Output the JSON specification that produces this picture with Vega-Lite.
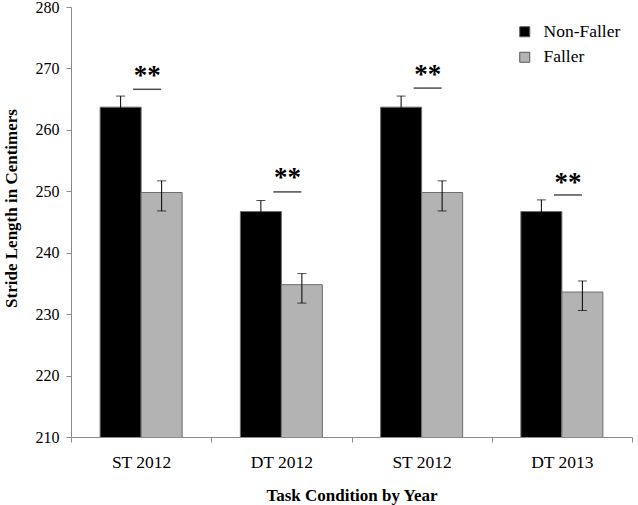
{
  "$schema": "https://vega.github.io/schema/vega-lite/v6.json",
  "width": 561,
  "height": 430,
  "autosize": {"type": "none"},
  "padding": {"left": 71, "top": 7, "right": 6, "bottom": 68},
  "config": {
    "view": {"stroke": null},
    "font": "Liberation Serif",
    "axis": {"labelFont": "Liberation Serif", "titleFont": "Liberation Serif"},
    "legend": {"labelFont": "Liberation Serif", "titleFont": "Liberation Serif"},
    "text": {"font": "Liberation Serif"}
  },
  "datasets": {
    "bars": [
      {"cond": "ST 2012|1", "group": "Non-Faller", "value": 263.7, "lo": 261.9, "hi": 265.5},
      {"cond": "ST 2012|1", "group": "Faller", "value": 249.8, "lo": 246.8, "hi": 251.7},
      {"cond": "DT 2012|2", "group": "Non-Faller", "value": 246.7, "lo": 244.9, "hi": 248.5},
      {"cond": "DT 2012|2", "group": "Faller", "value": 234.8, "lo": 231.8, "hi": 236.6},
      {"cond": "ST 2012|3", "group": "Non-Faller", "value": 263.7, "lo": 261.9, "hi": 265.5},
      {"cond": "ST 2012|3", "group": "Faller", "value": 249.8, "lo": 246.8, "hi": 251.7},
      {"cond": "DT 2013|4", "group": "Non-Faller", "value": 246.7, "lo": 244.8, "hi": 248.6},
      {"cond": "DT 2013|4", "group": "Faller", "value": 233.6, "lo": 230.6, "hi": 235.4}
    ],
    "sig": [
      {"cond": "ST 2012|1", "lineY": 266.6, "starY": 267.4, "label": "**"},
      {"cond": "DT 2012|2", "lineY": 249.9, "starY": 250.8, "label": "**"},
      {"cond": "ST 2012|3", "lineY": 266.8, "starY": 267.6, "label": "**"},
      {"cond": "DT 2013|4", "lineY": 249.4, "starY": 250.1, "label": "**"}
    ]
  },
  "layer": [
    {
      "data": {"name": "bars"},
      "mark": {"type": "bar", "stroke": "#6e6e6e", "strokeWidth": 1, "clip": true},
      "encoding": {
        "x": {
          "field": "cond", "type": "nominal", "sort": null,
          "scale": {"paddingInner": 0, "paddingOuter": 0},
          "axis": {
            "labelExpr": "split(datum.label, '|')[0]",
            "tickBand": "extent",
            "labelAngle": 0,
            "domainColor": "#8a8a8a", "tickColor": "#8a8a8a", "tickSize": 5,
            "labelFont": "Liberation Serif", "labelFontSize": 17.5, "labelColor": "#000000",
            "labelBaseline": "alphabetic", "labelPadding": 25,
            "title": "Task Condition by Year",
            "titleFont": "Liberation Serif", "titleFontSize": 17, "titleFontWeight": "bold", "titleColor": "#000000",
            "titleBaseline": "alphabetic", "titleY": 63
          }
        },
        "y": {
          "field": "value", "type": "quantitative",
          "scale": {"domain": [210, 280], "nice": false, "zero": false},
          "axis": {
            "values": [210, 220, 230, 240, 250, 260, 270, 280],
            "grid": false,
            "domainColor": "#8a8a8a", "tickColor": "#8a8a8a", "tickSize": 5,
            "labelFont": "Liberation Serif", "labelFontSize": 16, "labelColor": "#000000", "labelPadding": 7,
            "title": "Stride Length in Centimers",
            "titleFont": "Liberation Serif", "titleFontSize": 17, "titleFontWeight": "bold", "titleColor": "#000000",
            "titleAngle": 270, "titleBaseline": "alphabetic", "titleAlign": "center",
            "titleX": -55, "titleY": 201
          }
        },
        "xOffset": {
          "field": "group", "type": "nominal", "sort": ["Non-Faller", "Faller"],
          "scale": {"paddingInner": 0, "paddingOuter": 0.71}
        },
        "color": {
          "field": "group", "type": "nominal",
          "scale": {"domain": ["Non-Faller", "Faller"], "range": ["#000000", "#b3b3b3"]},
          "legend": {
            "orient": "none", "legendX": 445, "legendY": 16, "padding": 0,
            "title": null,
            "symbolType": "square", "symbolSize": 100, "symbolStrokeColor": "#555555", "symbolStrokeWidth": 1,
            "labelFont": "Liberation Serif", "labelFontSize": 17.5, "labelColor": "#000000",
            "labelOffset": 10, "rowPadding": 6.5
          }
        }
      }
    },
    {
      "data": {"name": "bars"},
      "mark": {"type": "rule", "color": "#000000", "strokeWidth": 1},
      "encoding": {
        "x": {"field": "cond", "type": "nominal", "sort": null},
        "xOffset": {"field": "group", "type": "nominal", "sort": ["Non-Faller", "Faller"]},
        "y": {"field": "lo", "type": "quantitative"},
        "y2": {"field": "hi"}
      }
    },
    {
      "data": {"name": "bars"},
      "mark": {"type": "tick", "color": "#000000", "size": 9, "thickness": 1, "orient": "horizontal"},
      "encoding": {
        "x": {"field": "cond", "type": "nominal", "sort": null},
        "xOffset": {"field": "group", "type": "nominal", "sort": ["Non-Faller", "Faller"]},
        "y": {"field": "hi", "type": "quantitative"}
      }
    },
    {
      "data": {"name": "bars"},
      "mark": {"type": "tick", "color": "#000000", "size": 9, "thickness": 1, "orient": "horizontal"},
      "encoding": {
        "x": {"field": "cond", "type": "nominal", "sort": null},
        "xOffset": {"field": "group", "type": "nominal", "sort": ["Non-Faller", "Faller"]},
        "y": {"field": "lo", "type": "quantitative"}
      }
    },
    {
      "data": {"name": "sig"},
      "mark": {"type": "tick", "color": "#000000", "size": 28, "thickness": 1.5, "orient": "horizontal", "xOffset": 6},
      "encoding": {
        "x": {"field": "cond", "type": "nominal", "sort": null},
        "y": {"field": "lineY", "type": "quantitative"}
      }
    },
    {
      "data": {"name": "sig"},
      "mark": {"type": "text", "color": "#000000", "fontSize": 27, "fontWeight": "bold", "font": "Liberation Serif", "baseline": "alphabetic", "align": "center", "xOffset": 6},
      "encoding": {
        "x": {"field": "cond", "type": "nominal", "sort": null},
        "y": {"field": "starY", "type": "quantitative"},
        "text": {"field": "label"}
      }
    }
  ]
}
